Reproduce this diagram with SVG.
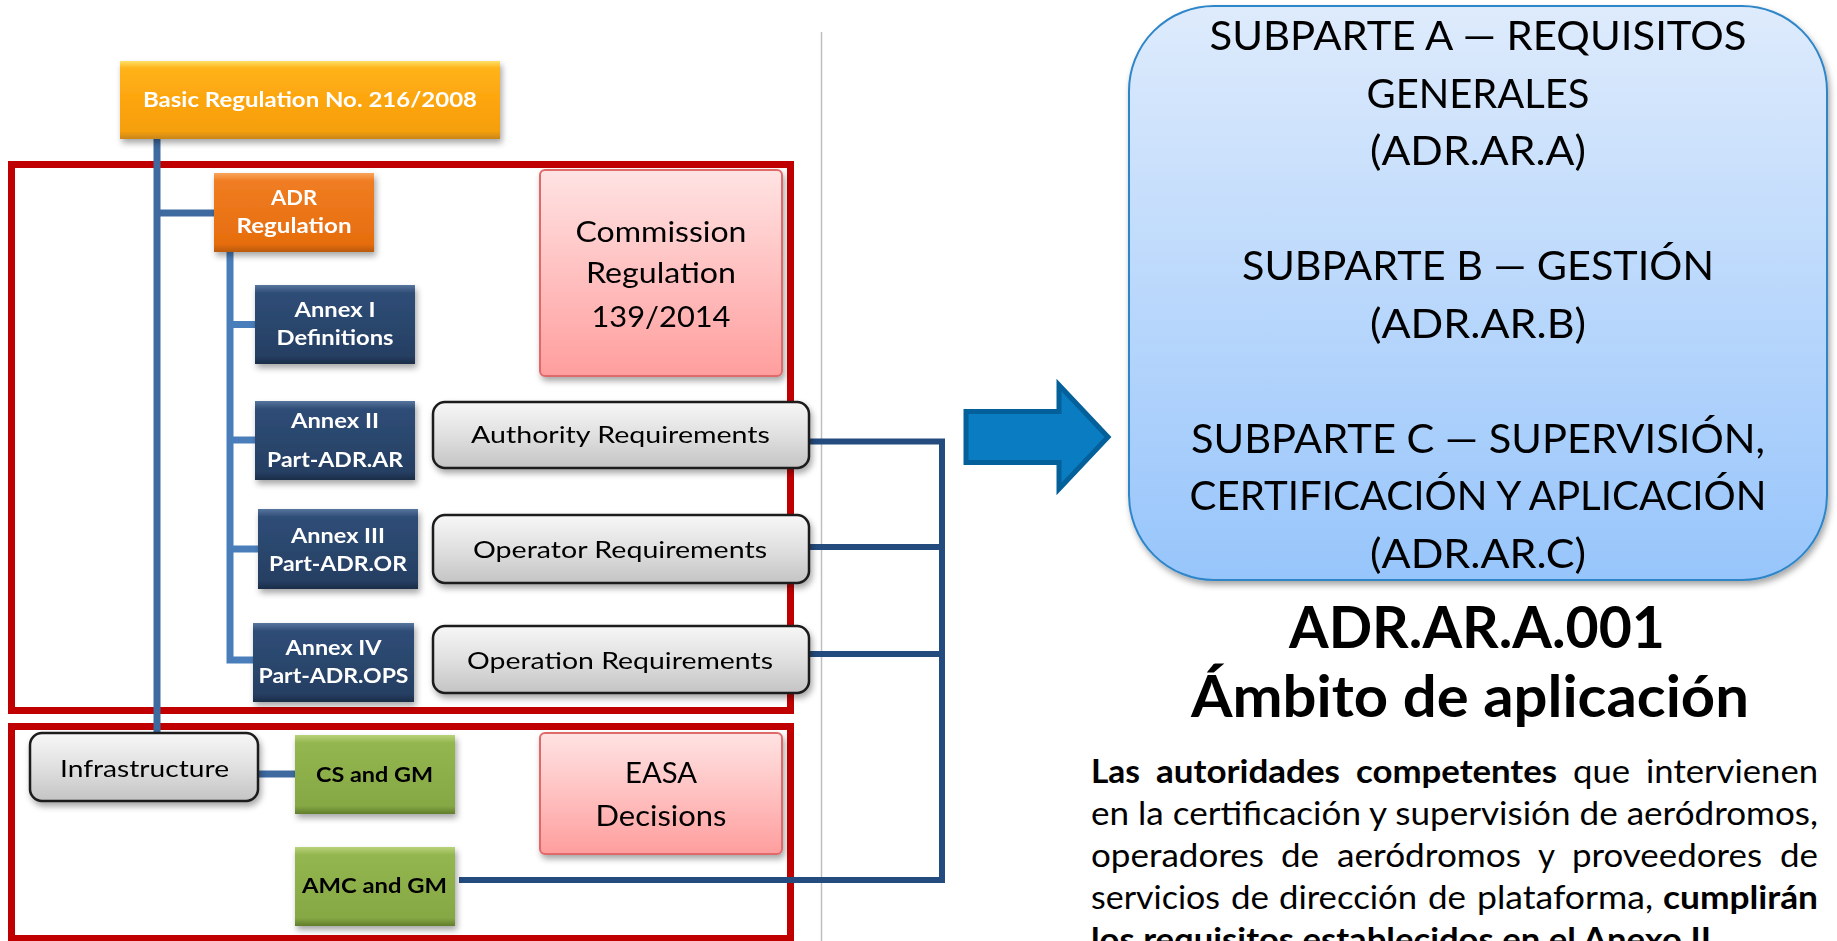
<svg xmlns="http://www.w3.org/2000/svg" width="1837" height="941" viewBox="0 0 1837 941">
<defs>
<filter id="sh" x="-10%" y="-10%" width="125%" height="140%">
<feDropShadow dx="2" dy="4" stdDeviation="3" flood-color="#000" flood-opacity="0.35"/>
</filter>
<linearGradient id="gOrangeY" x1="0" y1="0" x2="0" y2="1">
<stop offset="0" stop-color="#ffe066"/><stop offset="0.09" stop-color="#ffb31a"/><stop offset="0.5" stop-color="#fda50f"/><stop offset="0.9" stop-color="#f59f0c"/><stop offset="1" stop-color="#c9861a"/>
</linearGradient>
<linearGradient id="gOrange" x1="0" y1="0" x2="0" y2="1">
<stop offset="0" stop-color="#f9a55c"/><stop offset="0.1" stop-color="#f07d22"/><stop offset="0.9" stop-color="#e66d0e"/><stop offset="1" stop-color="#b85a10"/>
</linearGradient>
<linearGradient id="gNavy" x1="0" y1="0" x2="0" y2="1">
<stop offset="0" stop-color="#58769e"/><stop offset="0.1" stop-color="#2f4d77"/><stop offset="0.9" stop-color="#263f63"/><stop offset="1" stop-color="#1a2c47"/>
</linearGradient>
<linearGradient id="gGreen" x1="0" y1="0" x2="0" y2="1">
<stop offset="0" stop-color="#b9d27a"/><stop offset="0.1" stop-color="#94b650"/><stop offset="0.9" stop-color="#86a844"/><stop offset="1" stop-color="#607d2c"/>
</linearGradient>
<linearGradient id="gGray" x1="0" y1="0" x2="0" y2="1">
<stop offset="0" stop-color="#f7f7f7"/><stop offset="0.5" stop-color="#e0e0e0"/><stop offset="1" stop-color="#c4c4c4"/>
</linearGradient>
<linearGradient id="gPink" x1="0" y1="0" x2="0" y2="1">
<stop offset="0" stop-color="#ffe3e3"/><stop offset="1" stop-color="#ff9e9e"/>
</linearGradient>
<linearGradient id="gBlue" x1="0" y1="0" x2="0" y2="1">
<stop offset="0" stop-color="#deebfc"/><stop offset="1" stop-color="#97c5fb"/>
</linearGradient>
<style>
text{font-family:Lato,"Liberation Sans",sans-serif;}
.w{fill:#fff;font-weight:bold;font-size:21px;text-anchor:middle;}
.k{fill:#000;font-weight:bold;font-size:21px;text-anchor:middle;}
.req{fill:#000;font-size:22.5px;text-anchor:middle;}
.pk{fill:#000;font-size:28px;text-anchor:middle;}
.bx{fill:#000;font-size:41.5px;text-anchor:middle;}
.tt{fill:#000;font-size:57px;font-weight:bold;}
.p{fill:#000;font-size:33px;}
.b{font-weight:bold;}
.frame{fill:none;stroke:#c00000;stroke-width:7;}
.trunk{fill:none;stroke:#3e6a9f;stroke-width:7;}
.sub{fill:none;stroke:#4a7ebb;stroke-width:7;}
.rc{fill:none;stroke:#234b7e;stroke-width:6;}
.grey{fill:url(#gGray);stroke:#1a1a1a;stroke-width:2.5;}
</style>
</defs>
<rect width="1837" height="941" fill="#fff"/>

<line x1="821.5" y1="32" x2="821.5" y2="941" stroke="#bfbfbf" stroke-width="1.5"/>

<g id="frames">
<rect class="frame" x="11.5" y="164.5" width="779" height="546"/>
<rect class="frame" x="11.5" y="726.5" width="779" height="212"/>
</g>

<g id="connectors">
<path class="trunk" d="M157,139 V733 M157,213 H214"/>
<path class="sub" d="M230,252 V660 H253 M230,324.5 H255 M230,440 H255 M230,549 H258"/>
<path class="trunk" d="M258,774 H295"/>
<path class="rc" d="M809,441.5 H942 V880 H459 M809,547 H942 M809,654 H942"/>
</g>

<g id="basic-regulation" filter="url(#sh)">
<rect x="120" y="61" width="380" height="78" fill="url(#gOrangeY)"/>
<text class="w" x="310" y="107" font-size="23" textLength="334" lengthAdjust="spacingAndGlyphs">Basic Regulation No. 216/2008</text>
</g>

<g id="adr-regulation" filter="url(#sh)">
<rect x="214" y="173" width="160" height="79" fill="url(#gOrange)"/>
<text class="w" x="294" y="205" textLength="46" lengthAdjust="spacingAndGlyphs">ADR</text>
<text class="w" x="294" y="233" textLength="115" lengthAdjust="spacingAndGlyphs">Regulation</text>
</g>

<g id="annex-i" filter="url(#sh)">
<rect x="255" y="285" width="160" height="79" fill="url(#gNavy)"/>
<text class="w" x="335" y="317" textLength="81" lengthAdjust="spacingAndGlyphs">Annex I</text>
<text class="w" x="335" y="345" textLength="117" lengthAdjust="spacingAndGlyphs">Definitions</text>
</g>

<g id="annex-ii" filter="url(#sh)">
<rect x="255" y="401" width="160" height="79" fill="url(#gNavy)"/>
<text class="w" x="335" y="428" textLength="88" lengthAdjust="spacingAndGlyphs">Annex II</text>
<text class="w" x="335" y="467" textLength="136" lengthAdjust="spacingAndGlyphs">Part-ADR.AR</text>
</g>

<g id="annex-iii" filter="url(#sh)">
<rect x="258" y="509" width="160" height="80" fill="url(#gNavy)"/>
<text class="w" x="338" y="543" textLength="94" lengthAdjust="spacingAndGlyphs">Annex III</text>
<text class="w" x="338" y="571" textLength="138" lengthAdjust="spacingAndGlyphs">Part-ADR.OR</text>
</g>

<g id="annex-iv" filter="url(#sh)">
<rect x="253" y="623" width="161" height="79" fill="url(#gNavy)"/>
<text class="w" x="333.5" y="655" textLength="96" lengthAdjust="spacingAndGlyphs">Annex IV</text>
<text class="w" x="333.5" y="683" textLength="150" lengthAdjust="spacingAndGlyphs">Part-ADR.OPS</text>
</g>

<g id="authority-requirements" filter="url(#sh)">
<rect class="grey" x="433" y="402" width="376" height="66" rx="12"/>
<text class="req" x="620.5" y="443" textLength="299" lengthAdjust="spacingAndGlyphs">Authority Requirements</text>
</g>

<g id="operator-requirements" filter="url(#sh)">
<rect class="grey" x="433" y="515" width="376" height="68" rx="12"/>
<text class="req" x="620" y="558" textLength="294" lengthAdjust="spacingAndGlyphs">Operator Requirements</text>
</g>

<g id="operation-requirements" filter="url(#sh)">
<rect class="grey" x="433" y="626" width="376" height="67" rx="12"/>
<text class="req" x="620" y="669" textLength="306" lengthAdjust="spacingAndGlyphs">Operation Requirements</text>
</g>

<g id="commission-regulation" filter="url(#sh)">
<rect x="540" y="170" width="242" height="206" rx="5" fill="url(#gPink)" stroke="#e06a6a" stroke-width="2"/>
<text class="pk" x="661" y="242" textLength="171" lengthAdjust="spacingAndGlyphs">Commission</text>
<text class="pk" x="661" y="283" textLength="150" lengthAdjust="spacingAndGlyphs">Regulation</text>
<text class="pk" x="661" y="327" textLength="139" lengthAdjust="spacingAndGlyphs">139/2014</text>
</g>

<g id="infrastructure" filter="url(#sh)">
<rect class="grey" x="30" y="733" width="228" height="68" rx="12"/>
<text class="req" x="144.5" y="777" textLength="169" lengthAdjust="spacingAndGlyphs">Infrastructure</text>
</g>

<g id="cs-and-gm" filter="url(#sh)">
<rect x="295" y="735" width="160" height="79" fill="url(#gGreen)"/>
<text class="k" x="374.5" y="782" textLength="117" lengthAdjust="spacingAndGlyphs">CS and GM</text>
</g>

<g id="amc-and-gm" filter="url(#sh)">
<rect x="295" y="847" width="160" height="79" fill="url(#gGreen)"/>
<text class="k" x="374.5" y="893" textLength="145" lengthAdjust="spacingAndGlyphs">AMC and GM</text>
</g>

<g id="easa-decisions" filter="url(#sh)">
<rect x="540" y="733" width="242" height="121" rx="5" fill="url(#gPink)" stroke="#e06a6a" stroke-width="2"/>
<text class="pk" x="661" y="783" textLength="72" lengthAdjust="spacingAndGlyphs">EASA</text>
<text class="pk" x="661" y="826" textLength="131" lengthAdjust="spacingAndGlyphs">Decisions</text>
</g>

<g id="arrow">
<polygon points="966,411.5 1059,411.5 1059,385 1108,437 1059,489 1059,462.5 966,462.5" fill="#0a7cc1" stroke="#04609a" stroke-width="5"/>
</g>

<g id="subparts" filter="url(#sh)">
<rect x="1129" y="6" width="698" height="574" rx="85" ry="85" fill="url(#gBlue)" stroke="#2e86c8" stroke-width="2"/>
<text class="bx" x="1478" y="50" textLength="537" lengthAdjust="spacingAndGlyphs">SUBPARTE A — REQUISITOS</text>
<text class="bx" x="1478" y="107.5" textLength="223" lengthAdjust="spacingAndGlyphs">GENERALES</text>
<text class="bx" x="1478" y="165" textLength="216" lengthAdjust="spacingAndGlyphs">(ADR.AR.A)</text>
<text class="bx" x="1478" y="280" textLength="472" lengthAdjust="spacingAndGlyphs">SUBPARTE B — GESTIÓN</text>
<text class="bx" x="1478" y="337.5" textLength="216" lengthAdjust="spacingAndGlyphs">(ADR.AR.B)</text>
<text class="bx" x="1478" y="452.5" textLength="574" lengthAdjust="spacingAndGlyphs">SUBPARTE C — SUPERVISIÓN,</text>
<text class="bx" x="1478" y="510" textLength="577" lengthAdjust="spacingAndGlyphs">CERTIFICACIÓN Y APLICACIÓN</text>
<text class="bx" x="1478" y="567.5" textLength="216" lengthAdjust="spacingAndGlyphs">(ADR.AR.C)</text>
</g>

<g id="title">
<text class="tt" x="1289" y="648" textLength="376" lengthAdjust="spacingAndGlyphs">ADR.AR.A.001</text>
<text class="tt" x="1191" y="717" textLength="558" lengthAdjust="spacingAndGlyphs">Ámbito de aplicación</text>
</g>

<g id="paragraph">
<text class="p" y="783"><tspan class="b" x="1091" textLength="49" lengthAdjust="spacingAndGlyphs">Las</tspan><tspan class="b" x="1156" textLength="184" lengthAdjust="spacingAndGlyphs">autoridades</tspan><tspan class="b" x="1356" textLength="201" lengthAdjust="spacingAndGlyphs">competentes</tspan><tspan x="1573" textLength="57" lengthAdjust="spacingAndGlyphs">que</tspan><tspan x="1646" textLength="172" lengthAdjust="spacingAndGlyphs">intervienen</tspan></text>
<text class="p" x="1091" y="825" textLength="727" lengthAdjust="spacingAndGlyphs">en la certificación y supervisión de aeródromos,</text>
<text class="p" y="867"><tspan x="1091" textLength="173" lengthAdjust="spacingAndGlyphs">operadores</tspan><tspan x="1281" textLength="38" lengthAdjust="spacingAndGlyphs">de</tspan><tspan x="1337" textLength="184" lengthAdjust="spacingAndGlyphs">aeródromos</tspan><tspan x="1538" textLength="17" lengthAdjust="spacingAndGlyphs">y</tspan><tspan x="1572" textLength="190" lengthAdjust="spacingAndGlyphs">proveedores</tspan><tspan x="1780" textLength="38" lengthAdjust="spacingAndGlyphs">de</tspan></text>
<text class="p" y="909"><tspan x="1091" textLength="129" lengthAdjust="spacingAndGlyphs">servicios</tspan><tspan x="1231" textLength="38" lengthAdjust="spacingAndGlyphs">de</tspan><tspan x="1279" textLength="138" lengthAdjust="spacingAndGlyphs">dirección</tspan><tspan x="1428" textLength="38" lengthAdjust="spacingAndGlyphs">de</tspan><tspan x="1477" textLength="176" lengthAdjust="spacingAndGlyphs">plataforma,</tspan><tspan class="b" x="1663" textLength="155" lengthAdjust="spacingAndGlyphs">cumplirán</tspan></text>
<text class="p b" x="1091" y="951" textLength="620" lengthAdjust="spacingAndGlyphs">los requisitos establecidos en el Anexo II</text>
</g>
</svg>
